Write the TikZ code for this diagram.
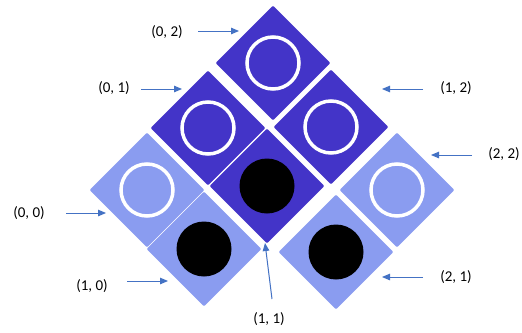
\documentclass[tikz,border=0pt]{standalone}
\usepackage{fontspec}
\setmainfont{Carlito}
\usetikzlibrary{arrows.meta}
\definecolor{darktile}{RGB}{67,52,200}
\definecolor{lighttile}{RGB}{138,156,240}
\definecolor{arrowblue}{RGB}{68,114,196}
\tikzset{
  tile/.style={draw=none, rotate=45, minimum width=81pt, minimum height=81pt, inner sep=0pt, rounded corners=1pt},
  darkt/.style={tile, fill=darktile},
  lightt/.style={tile, fill=lighttile},
  ring/.style={draw=white, line width=3.5pt},
  stone/.style={fill=black},
  lbl/.style={font=\fontsize{15}{18}\selectfont, inner sep=0pt},
  pointer/.style={draw=arrowblue, line width=1pt, -{Triangle[length=8pt,width=6.5pt]}}
}
\begin{document}
\begin{tikzpicture}[x=1pt,y=-1pt]
\useasboundingbox (0,0) rectangle (522,332);
% tiles
\node[darkt]  (t02) at (273,63) {};
\node[darkt]  (t01) at (208,128) {};
\node[darkt]  (t12) at (331,127) {};
\node[lightt] (t00) at (147,190) {};
\node[darkt]  (t11) at (267,186) {};
\node[lightt] (t22) at (397,190) {};
\node[lightt] (t10) at (204,249) {};
\node[lightt] (t21) at (336,252) {};
% pieces
\draw[ring] (t02.center) circle (26);
\draw[ring] (t01.center) circle (26);
\draw[ring] (t12.center) circle (26);
\draw[ring] (t00.center) circle (26);
\draw[ring] (t22.center) circle (26);
\fill[stone] (t11.center) circle (27.5);
\fill[stone] (t10.center) circle (27.5);
\fill[stone] (t21.center) circle (27.5);
% labels
\node[lbl] (l02) at (167,32) {(0, 2)};
\node[lbl] (l01) at (114,88) {(0, 1)};
\node[lbl] (l12) at (456,88) {(1, 2)};
\node[lbl] (l22) at (504,154) {(2, 2)};
\node[lbl] (l00) at (29,213) {(0, 0)};
\node[lbl] (l10) at (92,286) {(1, 0)};
\node[lbl] (l21) at (456,277) {(2, 1)};
\node[lbl] (l11) at (269,319) {(1, 1)};
% arrow ends
\coordinate (s02) at (198,31);  \coordinate (e02) at (239,31);
\coordinate (s01) at (141,89);  \coordinate (e01) at (182,89);
\coordinate (s12) at (423,89);  \coordinate (e12) at (382,89);
\coordinate (s22) at (472,155); \coordinate (e22) at (431,155);
\coordinate (s00) at (66,213);  \coordinate (e00) at (106,213);
\coordinate (s10) at (127,281); \coordinate (e10) at (168,281);
\coordinate (s21) at (423,277); \coordinate (e21) at (382,277);
\coordinate (s11) at (272,299); \coordinate (e11) at (265,243);
\draw[pointer] (s02) -- (e02);
\draw[pointer] (s01) -- (e01);
\draw[pointer] (s12) -- (e12);
\draw[pointer] (s22) -- (e22);
\draw[pointer] (s00) -- (e00);
\draw[pointer] (s10) -- (e10);
\draw[pointer] (s21) -- (e21);
\draw[pointer] (s11) -- (e11);
\end{tikzpicture}
\end{document}
